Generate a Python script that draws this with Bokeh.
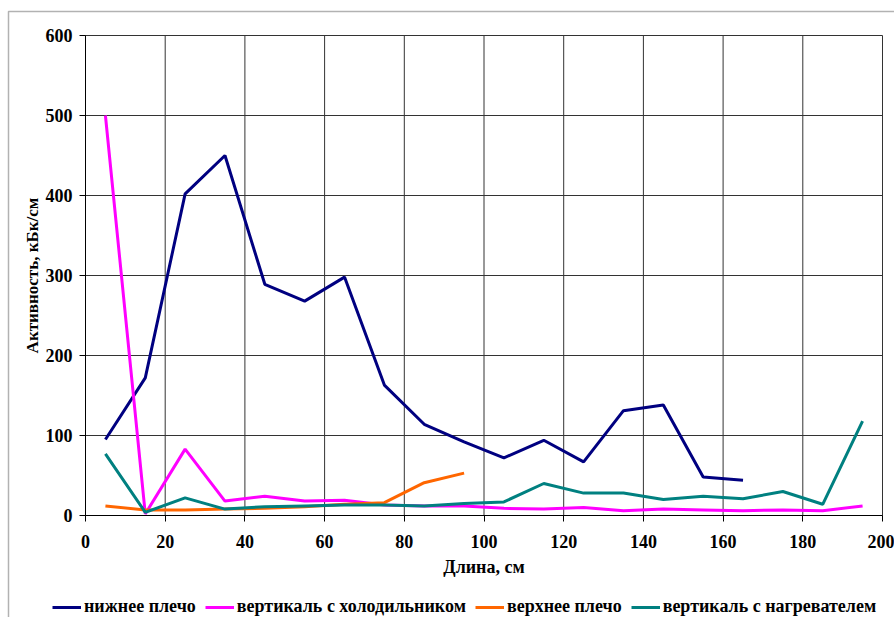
from bokeh.plotting import figure
from bokeh.models import Legend, LegendItem, FixedTicker, Range1d, BoxAnnotation
from bokeh.embed import file_html
from bokeh.resources import INLINE

x_lower = [5, 15, 25, 35, 45, 55, 65, 75, 85, 95, 105, 115, 125, 135, 145, 155, 165]
lower_arm = [95, 172, 402, 450, 289, 268, 298, 163, 114, 92, 72, 94, 67, 131, 138, 48, 44]

x_cold = [5, 15, 25, 35, 45, 55, 65, 75, 85, 95, 105, 115, 125, 135, 145, 155, 165, 175, 185, 195]
vert_cold = [500, 2, 83, 18, 24, 18, 19, 13, 12, 12, 9, 8, 10, 6, 8, 7, 6, 7, 6, 12]

x_upper = [5, 15, 25, 35, 45, 55, 65, 75, 85, 95]
upper_arm = [12, 7, 7, 8, 9, 11, 14, 16, 41, 53]

x_heat = [5, 15, 25, 35, 45, 55, 65, 75, 85, 95, 105, 115, 125, 135, 145, 155, 165, 175, 185, 195]
vert_heat = [77, 4, 22, 8, 11, 12, 13, 13, 12, 15, 17, 40, 28, 28, 20, 24, 21, 30, 14, 118]

names = ["нижнее плечо", "вертикаль с холодильником", "верхнее плечо", "вертикаль с нагревателем"]
colors = ["#000080", "#FF00FF", "#FF6600", "#008080"]

x_ticks = [0, 20, 40, 60, 80, 100, 120, 140, 160, 180, 200]
y_ticks = [0, 100, 200, 300, 400, 500, 600]

FONT = "Liberation Serif"

W, H = 894, 617
# plot area in pixels: left 85, right 882, top 35, bottom 515
px_x = (882 - 85) / 200.0
px_y = (515 - 35) / 600.0
x0 = -85 / px_x
x1 = 200 + (W - 882) / px_x
y0 = -(H - 515) / px_y
y1 = 600 + 35 / px_y

p = figure(width=W, height=H, output_backend="svg", toolbar_location=None,
           x_range=Range1d(x0, x1), y_range=Range1d(y0, y1),
           min_border_left=0, min_border_right=0, min_border_top=0, min_border_bottom=0)
p.background_fill_color = "white"
p.border_fill_color = "white"
p.outline_line_color = None
p.xgrid.visible = False
p.ygrid.visible = False

for ax in (p.xaxis[0], p.yaxis[0]):
    ax.fixed_location = 0
    ax.major_label_text_font = FONT
    ax.major_label_text_font_style = "bold"
    ax.major_label_text_font_size = "18px"
    ax.major_label_text_color = "#000000"
    ax.axis_label_text_font = FONT
    ax.axis_label_text_font_style = "bold"
    ax.axis_label_text_color = "#000000"
    ax.axis_line_color = "#000000"
    ax.major_tick_line_color = "#000000"
    ax.major_tick_out = 6
    ax.major_tick_in = 0
    ax.minor_tick_line_color = None

p.xaxis[0].bounds = (0, 200)
p.yaxis[0].bounds = (0, 600)
p.xaxis[0].ticker = FixedTicker(ticks=x_ticks)
p.yaxis[0].ticker = FixedTicker(ticks=y_ticks)
p.xaxis[0].axis_label = "Длина, см"
p.yaxis[0].axis_label = "Активность, кБк/см"
p.xaxis[0].axis_label_text_font_size = "18px"
p.yaxis[0].axis_label_text_font_size = "17px"
p.xaxis[0].major_label_standoff = 13
p.yaxis[0].major_label_standoff = 7
p.xaxis[0].axis_label_standoff = 6
p.yaxis[0].axis_label_standoff = 1

# grid lines at the tick positions, limited to the data area
p.segment(x0=x_ticks, y0=[y_ticks[0]] * len(x_ticks), x1=x_ticks, y1=[y_ticks[-1]] * len(x_ticks),
          line_color="#333333", line_width=1)
p.segment(x0=[x_ticks[0]] * len(y_ticks), y0=y_ticks, x1=[x_ticks[-1]] * len(y_ticks), y1=y_ticks,
          line_color="#333333", line_width=1)

# outer chart border (starts at 8px from left, 11px from top, runs past the window)
p.add_layout(BoxAnnotation(left=x0 + 8 / px_x, right=x1 + 20,
                           top=y1 - 11 / px_y, bottom=y0 - 50,
                           fill_alpha=0, line_color="#000000", line_width=1.5))

series = [(x_lower, lower_arm), (x_cold, vert_cold), (x_upper, upper_arm), (x_heat, vert_heat)]
items = []
for (xs, ys), name, c in zip(series, names, colors):
    r = p.line(xs, ys, line_color=c, line_width=3)
    items.append(LegendItem(label=name, renderers=[r]))

legend = Legend(items=items, orientation="horizontal", location=(52, 0),
                label_text_font=FONT, label_text_font_style="bold",
                label_text_font_size="18px", label_text_color="#000000",
                border_line_color=None, background_fill_alpha=0,
                glyph_width=29, label_standoff=3, spacing=9, padding=0, margin=0)
p.add_layout(legend, "center")

open("out.html", "w").write(file_html(p, INLINE))
